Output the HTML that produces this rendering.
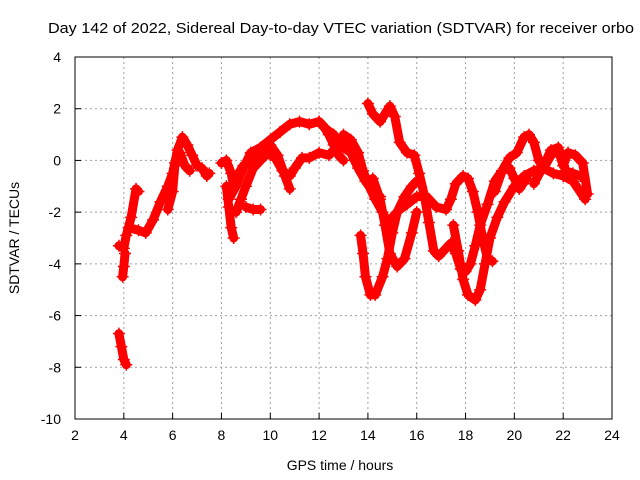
<!DOCTYPE html>
<html><head><meta charset="utf-8"><style>
html,body{margin:0;padding:0;background:#fff;}
svg{display:block;font-family:"Liberation Sans",sans-serif;}
</style></head><body>
<svg id="chart" width="640" height="480">
<text x="48" y="33" font-size="15" textLength="586" lengthAdjust="spacingAndGlyphs" fill="#000">Day 142 of 2022, Sidereal Day-to-day VTEC variation (SDTVAR) for receiver orbo</text>
<text x="340" y="470" font-size="14" text-anchor="middle" fill="#000">GPS time / hours</text>
<text x="19" y="238" font-size="14" text-anchor="middle" fill="#000" transform="rotate(-90 19 238)">SDTVAR / TECUs</text>
<g id="grid"></g><g id="marks"></g><g id="frame"></g>
</svg>
<script>
const xTicks=[2,4,6,8,10,12,14,16,18,20,22,24];
const yTicks=[4,2,0,-2,-4,-6,-8,-10];
const track1=[[3.8,-3.3],[4.0,-3.4],[4.1,-2.9],[4.3,-2.2],[4.5,-1.1],[4.6,-1.2]];
const track2=[[4.2,-2.6],[4.6,-2.7],[4.9,-2.8],[5.2,-2.3],[5.5,-1.6],[5.8,-1.0],[6.0,-0.5],[6.2,0.4],[6.4,0.9],[6.6,0.6],[6.8,0.2],[7.0,-0.2],[7.2,-0.3],[7.4,-0.6],[7.5,-0.5]];
const track3=[[5.8,-1.9],[6.0,-1.2],[6.1,-0.1],[6.3,0.3],[6.5,-0.2],[6.7,-0.4]];
const track4=[[3.95,-4.5],[4.0,-4.1],[4.05,-3.6]];
const track5=[[3.8,-6.7],[3.9,-7.2],[4.0,-7.7],[4.1,-7.9]];
const track6=[[8.0,-0.1],[8.2,0.0],[8.4,-0.5],[8.5,-1.0],[8.7,-0.5],[8.9,-0.2],[9.2,0.0],[9.5,0.3],[9.8,0.4],[10.0,0.2]];
const track7=[[8.2,-1.0],[8.3,-1.8],[8.4,-2.6],[8.5,-3.0]];
const track8=[[8.3,-1.5],[8.6,-1.0],[8.9,-0.3],[9.2,0.3],[9.6,0.5],[10.0,0.8],[10.4,1.1],[10.8,1.4],[11.2,1.5],[11.6,1.4],[12.0,1.5],[12.2,1.3],[12.4,1.0],[12.6,0.6],[12.8,0.2],[13.0,0.0]];
const track9=[[8.6,-2.0],[8.8,-1.5],[9.0,-1.0],[9.3,-0.3],[9.6,0.0],[9.9,0.3],[10.2,0.1],[10.5,-0.4],[10.8,-0.6],[11.0,-0.3],[11.3,0.1],[11.6,0.1],[12.0,0.3],[12.4,0.2],[12.8,0.6],[13.2,0.6]];
const track10=[[9.0,-1.8],[9.3,-1.9],[9.6,-1.9]];
const track11=[[10.0,0.6],[10.3,0.2],[10.6,-0.6],[10.8,-1.1]];
const track12=[[13.0,1.0],[13.3,0.8],[13.6,0.3],[13.8,-0.4],[14.0,-0.9],[14.3,-1.5],[14.6,-2.0],[14.8,-2.4],[15.0,-2.2],[15.3,-1.9],[15.6,-1.7],[16.0,-1.4],[16.4,-1.4],[16.8,-1.8],[17.2,-1.9],[17.4,-1.5],[17.6,-0.9],[17.9,-0.6],[18.1,-0.7],[18.3,-1.2],[18.5,-2.0],[18.7,-3.0],[18.9,-3.8],[19.1,-3.9]];
const track13=[[13.7,-2.9],[13.8,-3.6],[13.9,-4.5],[14.1,-5.2],[14.3,-5.2],[14.6,-4.5],[14.8,-3.8],[15.0,-2.8],[15.2,-2.0],[15.5,-1.4],[15.8,-1.0],[16.0,-0.8]];
const track14=[[14.0,2.2],[14.2,1.8],[14.5,1.5],[14.9,2.1],[15.1,1.7],[15.3,0.7],[15.6,0.3],[15.9,0.2],[16.1,-0.5],[16.3,-1.3],[16.5,-2.4],[16.7,-3.5],[16.9,-3.7],[17.1,-3.5],[17.4,-3.2],[17.6,-3.6],[17.8,-4.2],[18.0,-4.3],[18.2,-4.0],[18.4,-3.3],[18.6,-2.5],[18.9,-1.7],[19.2,-0.8],[19.5,-0.4],[19.8,-0.3],[20.0,-0.7],[20.2,-1.1],[20.5,-0.7]];
const track15=[[14.2,-0.7],[14.5,-1.5],[14.7,-2.5],[14.9,-3.6],[15.2,-4.1],[15.5,-3.8],[15.8,-2.8],[16.0,-2.0]];
const track16=[[17.5,-2.5],[17.7,-3.5],[17.9,-4.6],[18.1,-5.2],[18.4,-5.4],[18.6,-5.0],[18.8,-4.0],[19.0,-3.0],[19.3,-2.2],[19.6,-1.6],[20.0,-1.0],[20.4,-0.6],[20.8,-0.4],[21.2,-0.3],[21.6,-0.5],[22.0,-0.6],[22.4,-0.8],[22.9,-1.5]];
const track17=[[19.2,-1.2],[19.5,-0.4],[19.8,0.1],[20.1,0.3],[20.4,0.9],[20.6,1.0],[20.8,0.7],[21.0,0.0],[21.2,-0.3],[21.5,0.2],[21.8,0.4],[22.0,-0.2],[22.2,0.3],[22.5,0.2],[22.8,-0.1],[23.0,-1.3]];
const track18=[[20.8,-0.9],[21.2,-0.2],[21.5,0.4],[21.8,0.5],[22.1,-0.4],[22.4,-0.5],[22.7,-0.6]];
const track19=[[12.0,1.5],[12.3,1.2],[12.6,1.0],[13.0,0.5],[13.3,0.3],[13.6,-0.3],[13.9,-0.8],[14.2,-1.2],[14.5,-1.4]];
const tracks=[track1,track2,track3,track4,track5,track6,track7,track8,track9,track10,track11,track12,track13,track14,track15,track16,track17,track18,track19];

const X0=75,X1=612,Y0=57,Y1=419;
const xs=h=>X0+(h-2)/(24-2)*(X1-X0);
const ys=v=>Y0+(4-v)/(4-(-10))*(Y1-Y0);
const NS='http://www.w3.org/2000/svg';
const grid=document.getElementById('grid'),marks=document.getElementById('marks'),frame=document.getElementById('frame');
function mk(tag,attrs,parent){const e=document.createElementNS(NS,tag);for(const k in attrs)e.setAttribute(k,attrs[k]);parent.appendChild(e);return e;}
xTicks.forEach(t=>{
  const x=xs(t);
  if(t!==2&&t!==24){const g=mk('line',{x1:x,y1:Y0,x2:x,y2:Y1,stroke:'#a0a0a0','stroke-dasharray':'2,3'},grid);
  
  }
  const tk=mk('line',{x1:x,y1:Y1,x2:x,y2:Y1-6,stroke:'#000'},frame);
  
  
  const tl=mk('text',{x:x,y:Y1+21,'font-size':14,'text-anchor':'middle'},frame);
  tl.textContent=t;
  
  
});
yTicks.forEach(t=>{
  const y=ys(t);
  if(t!==4&&t!==-10){const g=mk('line',{x1:X0,y1:y,x2:X1,y2:y,stroke:'#a0a0a0','stroke-dasharray':'2,3'},grid);
  
  }
  const tk=mk('line',{x1:X0,y1:y,x2:X0+6,y2:y,stroke:'#000'},frame);
  
  
  const tl=mk('text',{x:X0-14,y:y+5,'font-size':14,'text-anchor':'end'},frame);
  tl.textContent=t;
  
  
});
const border=mk('rect',{x:X0,y:Y0,width:X1-X0,height:Y1-Y0,fill:'none',stroke:'#000'},frame);


tracks.forEach((tr,i)=>{
  const pl=mk('polyline',{points:tr.map(p=>xs(p[0])+','+ys(p[1])).join(' '),fill:'none',stroke:'#ff0000','stroke-width':9,'stroke-linejoin':'round','stroke-linecap':'round'},marks);
  
  
  tr.forEach(p=>{
    const x=xs(p[0]),y=ys(p[1]);
    const m=mk('path',{d:`M${x-6},${y}H${x+6}M${x},${y-6}V${y+6}`,stroke:'#ff0000','stroke-width':1.5},marks);
    
    
  });
});
</script>
</body></html>
